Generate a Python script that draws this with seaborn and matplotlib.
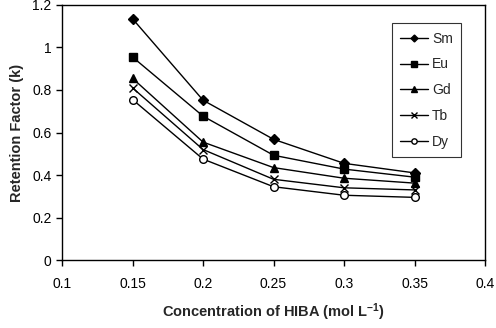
import matplotlib
matplotlib.use("Agg")
import matplotlib.pyplot as plt
import pandas as pd
import seaborn as sns

# concentration of HIBA (mol/L)
conc = [0.15, 0.2, 0.25, 0.3, 0.35]

# retention factors
sm = [1.135, 0.752, 0.568, 0.455, 0.41]
eu = [0.955, 0.677, 0.493, 0.428, 0.39]
gd = [0.855, 0.555, 0.435, 0.385, 0.362]
tb = [0.81, 0.52, 0.38, 0.34, 0.33]
dy = [0.755, 0.475, 0.345, 0.305, 0.295]

elements = ["Sm", "Eu", "Gd", "Tb", "Dy"]
markers = {"Sm": "D", "Eu": "s", "Gd": "^", "Tb": "x", "Dy": "o"}
msizes = {"Sm": 5, "Eu": 5.5, "Gd": 6, "Tb": 6, "Dy": 5.5}

df = pd.DataFrame({"conc": conc * 5,
                   "k": sm + eu + gd + tb + dy,
                   "el": [e for e in elements for _ in conc]})

sns.set_style("white")
plt.rcParams['font.family'] = ['Liberation Sans', 'DejaVu Sans']

fig, ax = plt.subplots(figsize=(4.96, 3.28), dpi=100)
fig.subplots_adjust(left=0.125, right=0.978, top=0.985, bottom=0.207)

for el in elements:
    sub = df[df["el"] == el]
    face = "white" if el == "Dy" else "black"
    sns.lineplot(data=sub, x="conc", y="k", ax=ax, color="black", lw=1,
                 marker=markers[el], markersize=msizes[el], markerfacecolor=face,
                 markeredgecolor="black", markeredgewidth=1, label=el)

ax.set_xlim(0.1, 0.4)
ax.set_ylim(0, 1.2)
ax.set_xticks([0.1, 0.15, 0.2, 0.25, 0.3, 0.35, 0.4])
ax.set_xticklabels(["0.1", "0.15", "0.2", "0.25", "0.3", "0.35", "0.4"])
ax.set_yticks([0, 0.2, 0.4, 0.6, 0.8, 1.0, 1.2])
ax.set_yticklabels(["0", "0.2", "0.4", "0.6", "0.8", "1", "1.2"])
ax.tick_params(axis="both", direction="out", length=4, width=1, labelsize=10,
               bottom=True, left=True, colors="black")
ax.tick_params(axis="x", pad=8)

for sp in ax.spines.values():
    sp.set_color("black")
    sp.set_linewidth(1)

ax.set_xlabel(r"Concentration of HIBA (mol L$\mathregular{^{-1}}$)", fontsize=10.5,
              fontweight="bold", labelpad=8)
ax.set_ylabel("Retention Factor (k)", fontsize=10.5, fontweight="bold", labelpad=6)

leg = ax.legend(loc="upper right", bbox_to_anchor=(0.96, 0.955), frameon=True,
                fancybox=False, edgecolor="black", fontsize=10, handlelength=2.0,
                markerscale=0.7, labelspacing=0.85, borderpad=0.6, handletextpad=0.3)
leg.get_frame().set_linewidth(0.8)

fig.savefig("out.png", dpi=100)
